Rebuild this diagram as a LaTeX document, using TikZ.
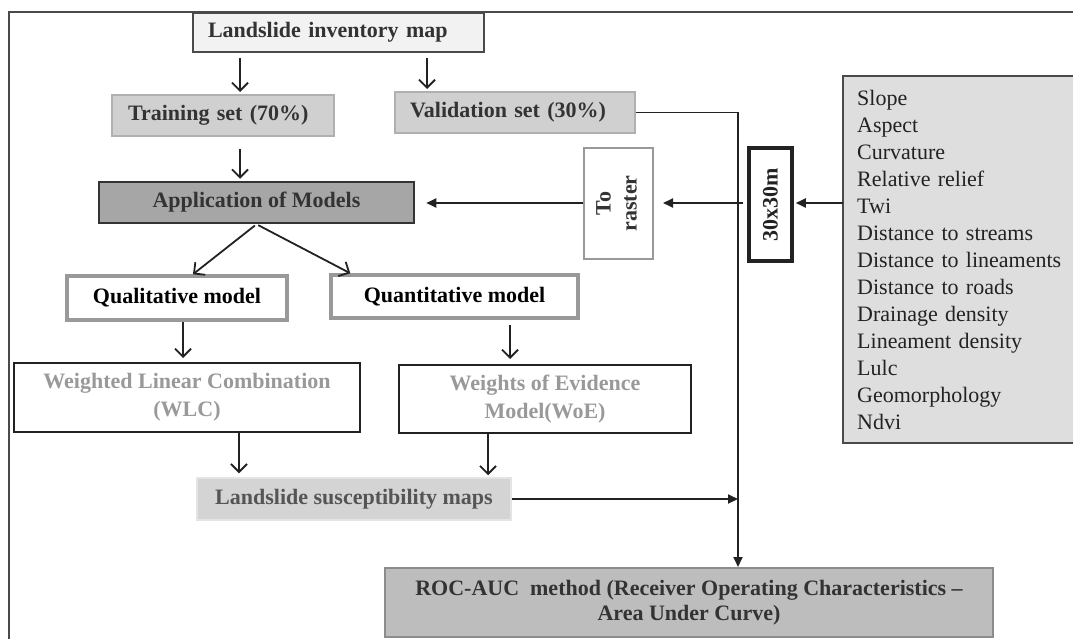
\documentclass[tikz,border=0pt]{standalone}
\usepackage{fontspec}
\setmainfont{Liberation Serif}
\usetikzlibrary{arrows.meta,calc}
\definecolor{ink}{HTML}{222222}
\definecolor{frm}{HTML}{4A4A4A}
\definecolor{invfill}{HTML}{F2F2F2}
\definecolor{setfill}{HTML}{D0D0D0}
\definecolor{setdraw}{HTML}{B0B0B0}
\definecolor{appfill}{HTML}{A6A6A6}
\definecolor{txtdark}{HTML}{333333}
\definecolor{midgray}{HTML}{999999}
\definecolor{facfill}{HTML}{DEDEDE}
\definecolor{susfill}{HTML}{D4D4D4}
\definecolor{susdraw}{HTML}{E4E4E4}
\definecolor{sustext}{HTML}{555555}
\definecolor{rocfill}{HTML}{BDBDBD}
\definecolor{rocdraw}{HTML}{8C8C8C}
\begin{document}
\begin{tikzpicture}[x=1pt,y=-1pt,
  bx/.style={rectangle, inner sep=0pt, align=center,
    font=\fontsize{22}{26}\selectfont\bfseries},
  setbox/.style={bx, draw=setdraw, fill=setfill, line width=2pt, text=txtdark,
    anchor=west, align=left, minimum height=41pt},
  modbox/.style={bx, draw=midgray, fill=white, line width=3.5pt, text=black},
  methbox/.style={bx, draw=ink, fill=white, line width=2pt, text=midgray,
    font=\fontsize{22}{28}\selectfont\bfseries},
  openarr/.style={draw=ink, line width=1.8pt, -{Straight Barb[length=8pt,width=16pt]}},
  filarr/.style={draw=ink, line width=1.8pt, -{Triangle[length=10pt,width=9pt]}}
]
\useasboundingbox (0,0) rectangle (1073,639);
% outer frame
\draw[frm, line width=2pt] (9,639) -- (9,12) -- (1073,12);

% nodes
\node[bx, draw=frm, fill=invfill, line width=2pt, text=txtdark, anchor=west,
  align=left, inner xsep=15pt, text width=261pt, minimum height=39pt]
  (inv) at (192,32.5) {Landslide inventory map};
\node[setbox, inner xsep=16pt, text width=190pt] (train) at (111,115.5) {Training set (70\%)};
\node[setbox, inner xsep=15pt, text width=210pt] (valid) at (394,112.5) {Validation set (30\%)};
\node[bx, draw=txtdark, fill=appfill, line width=2.5pt, text=txtdark,
  minimum width=315pt, minimum height=41pt] (app) at (256.5,202.5) {Application of Models};
\node[bx, draw=midgray, fill=white, line width=2pt, text=txtdark,
  minimum width=69pt, minimum height=111pt] (raster) at (618.5,203.5)
  {\rotatebox{90}{\begin{tabular}{@{}c@{}}To\\raster\end{tabular}}};
\node[bx, draw=ink, fill=white, line width=3.5pt, text=ink,
  minimum width=43pt, minimum height=113pt] (m30) at (770.5,204.5)
  {\rotatebox{90}{30x30m}};
\node[rectangle, fill=facfill, anchor=west, inner xsep=14pt, inner ysep=0pt,
  text width=240pt, minimum height=367pt, align=left, text=ink,
  font=\fontsize{22}{27}\selectfont] (fac) at (843,259.5)
  {Slope\\Aspect\\Curvature\\Relative relief\\Twi\\Distance to streams\\Distance to lineaments\\Distance to roads\\Drainage density\\Lineament density\\Lulc\\Geomorphology\\Ndvi};
\draw[frm, line width=1.5pt] (fac.north east) -- (fac.north west) -- (fac.south west) -- (fac.south east);
\node[modbox, minimum width=220pt, minimum height=44pt] (qual) at (177,298) {Qualitative model};
\node[modbox, minimum width=247pt, minimum height=43pt] (quant) at (454.5,296.5) {Quantitative model};
\node[methbox, minimum width=346pt, minimum height=69pt] (wlc) at (187,397.5)
  {Weighted Linear Combination\\(WLC)};
\node[methbox, minimum width=292pt, minimum height=68pt] (woe) at (545,399)
  {Weights of Evidence\\Model(WoE)};
\node[bx, draw=susdraw, fill=susfill, line width=1.5pt, text=sustext,
  minimum width=314pt, minimum height=42pt] (sus) at (354,499) {Landslide susceptibility maps};
\node[bx, draw=rocdraw, fill=rocfill, line width=2pt, text=txtdark,
  font=\fontsize{22}{25}\selectfont\bfseries,
  minimum width=608pt, minimum height=69pt] (roc) at (689,602.5)
  {ROC-AUC\ \ method (Receiver Operating Characteristics --\\Area Under Curve)};

\coordinate (vline) at (738,0);

% connectors
\draw[openarr, shorten <=5pt, shorten >=2pt] (inv.south -| 240,0) -- (train.north -| 240,0);
\draw[openarr, shorten <=5pt, shorten >=2pt] (inv.south -| 427,0) -- (valid.north -| 427,0);
\draw[openarr, shorten <=12pt, shorten >=2pt] (train.south -| 240,0) -- (app.north -| 240,0);
\draw[filarr, shorten >=11pt] (raster.west |- 0,203) -- (app.east |- 0,203);
\draw[filarr, shorten <=4pt, shorten >=9pt] (m30.west |- 0,203) -- (raster.east |- 0,203);
\draw[filarr, shorten >=2pt] (fac.west |- 0,203) -- (m30.east |- 0,203);
\draw[filarr] (valid.east) -- (valid.east -| vline) -- (roc.north -| vline);
\draw[openarr, shorten <=2pt] (app.south) -- ([xshift=16pt]qual.north);
\draw[openarr, shorten <=2pt] (app.south) -- ([xshift=21pt]quant.north west);
\draw[openarr, shorten >=4pt] (qual.south -| 183,0) -- (wlc.north -| 183,0);
\draw[openarr, shorten <=5pt, shorten >=5pt] (quant.south -| 510,0) -- (woe.north -| 510,0);
\draw[openarr, shorten >=4pt] (wlc.south -| 239,0) -- (sus.north -| 239,0);
\draw[openarr, shorten >=2pt] (woe.south -| 488,0) -- (sus.north -| 488,0);
\draw[filarr] (sus.east) -- (sus.east -| vline);
\end{tikzpicture}
\end{document}
